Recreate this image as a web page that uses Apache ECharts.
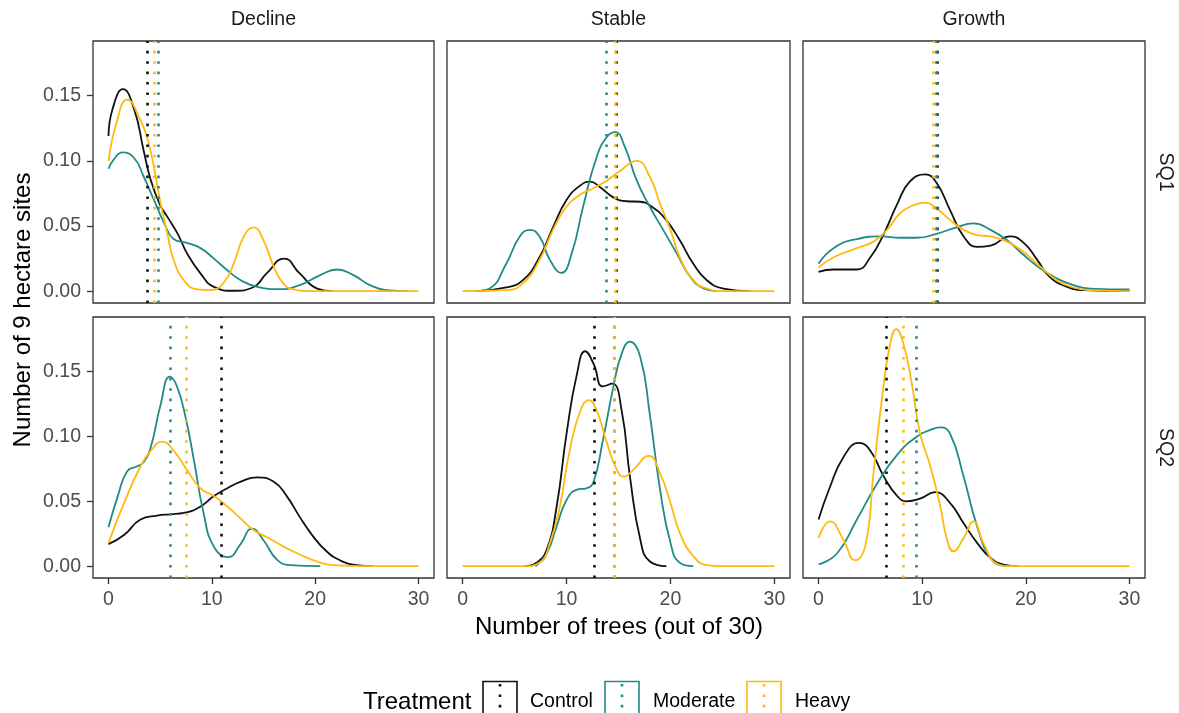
<!DOCTYPE html>
<html><head><meta charset="utf-8">
<script src="https://cdn.jsdelivr.net/npm/echarts@6/dist/echarts.min.js"></script>
<style>html,body{margin:0;padding:0;background:#fff}#chart{width:1179px;height:713px}</style>
</head><body><div id="chart"></div>
<script>
// ---------- labels ----------
const columnLabels = ['Decline', 'Stable', 'Growth'];
const rowLabels = ['SQ1', 'SQ2'];
const treatments = ['Control', 'Moderate', 'Heavy'];
const xTicks = [0, 10, 20, 30];
const yTicks = [0, 0.05, 0.10, 0.15];
const xTitle = 'Number of trees (out of 30)';
const yTitle = 'Number of 9 hectare sites';
const legendTitle = 'Treatment';

// ---------- density curves [x, density] ----------
const declineSQ1Control = [[0,0.119],[0.4,0.140],[1.4,0.155],[2.5,0.139],[3.4,0.108],[4.1,0.085],[5.0,0.066],[5.7,0.057],[6.7,0.044],[7.6,0.029],[8.9,0.0136],[10.2,0.0033],[12.1,0.0003],[14.0,0.003],[15.3,0.0136],[17.0,0.025],[18.5,0.0136],[20.2,0.002],[21.7,0]];
const declineSQ1Moderate = [[0,0.094],[0.5,0.101],[1.35,0.1065],[2.5,0.102],[3.4,0.088],[4.4,0.070],[5.4,0.052],[6.3,0.040],[7.6,0.037],[8.9,0.033],[10.2,0.025],[11.5,0.016],[12.8,0.0084],[14.4,0.0033],[16.6,0.0015],[18.5,0.0046],[20.5,0.0123],[22.1,0.0166],[23.7,0.0123],[25.3,0.0046],[26.9,0.0008],[29,0]];
const declineSQ1Heavy = [[0,0.0998],[0.8,0.130],[1.8,0.147],[3.1,0.131],[3.8,0.116],[4.4,0.095],[5.05,0.067],[5.7,0.044],[6.3,0.024],[7.3,0.0084],[8.6,0.0013],[9.9,0.0008],[11.2,0.007],[12.1,0.021],[13.1,0.042],[14.05,0.049],[15.0,0.039],[16.0,0.0187],[16.9,0.006],[17.9,0.0013],[19.2,0],[25,0],[30,0]];

const stableSQ1Control = [[1.35,0],[4.2,0.0028],[5.8,0.0084],[7.4,0.026],[8.7,0.049],[10.0,0.070],[11.3,0.081],[12.25,0.084],[13.2,0.080],[14.5,0.072],[15.8,0.069],[17.1,0.0686],[18.35,0.064],[19.6,0.0545],[20.9,0.039],[22.2,0.021],[23.5,0.0084],[25.1,0.002],[27.7,0]];
const stableSQ1Moderate = [[1.35,0],[2.6,0.002],[4.2,0.021],[5.5,0.042],[6.5,0.047],[7.4,0.042],[8.4,0.024],[9.5,0.014],[10.5,0.029],[11.6,0.065],[12.9,0.103],[13.9,0.1185],[14.7,0.122],[15.6,0.111],[16.75,0.085],[18.0,0.065],[19.3,0.047],[20.6,0.029],[21.9,0.011],[23.2,0.002],[24.4,0]];
const stableSQ1Heavy = [[0,0],[4.2,0.0008],[5.8,0.006],[7.4,0.024],[8.7,0.047],[10.0,0.065],[11.3,0.074],[12.6,0.079],[13.9,0.085],[15.1,0.092],[16.75,0.100],[18.0,0.088],[19.0,0.067],[20.0,0.047],[20.9,0.026],[22.2,0.0084],[23.5,0.002],[25.1,0],[30,0]];

const growthSQ1Control = [[0,0.0148],[1.45,0.0166],[3.7,0.0166],[5.0,0.026],[6.3,0.044],[7.6,0.067],[8.8,0.084],[10.3,0.0896],[11.4,0.083],[12.7,0.062],[14.0,0.042],[15.3,0.034],[16.6,0.035],[18.5,0.042],[19.8,0.037],[21.1,0.024],[22.3,0.011],[24.0,0.0033],[25.6,0.0008],[30,0]];
const growthSQ1Moderate = [[0,0.021],[1.45,0.033],[3.7,0.040],[6.0,0.042],[7.9,0.041],[9.5,0.041],[11.4,0.044],[13.3,0.049],[14.95,0.052],[16.6,0.047],[18.2,0.039],[19.8,0.0277],[21.4,0.0174],[23.0,0.0097],[24.6,0.0046],[26.2,0.002],[30,0.0013]];
const growthSQ1Heavy = [[0,0.018],[1.45,0.026],[3.7,0.033],[5.3,0.038],[6.6,0.047],[7.9,0.060],[9.2,0.066],[10.3,0.068],[11.4,0.0635],[12.7,0.0545],[14.0,0.047],[15.3,0.043],[16.6,0.042],[18.2,0.038],[19.8,0.030],[21.4,0.0187],[23.0,0.0084],[24.6,0.0028],[26.2,0.0008],[30,0]];

const declineSQ2Control = [[0,0.017],[1.5,0.024],[3.1,0.036],[4.7,0.039],[6.0,0.040],[7.3,0.041],[8.9,0.046],[10.2,0.054],[11.5,0.060],[12.75,0.065],[14.4,0.0685],[16.0,0.065],[17.25,0.054],[18.5,0.038],[19.8,0.023],[21.1,0.0115],[22.4,0.0046],[24.0,0.0008],[25.6,0]];
const declineSQ2Moderate = [[0,0.030],[0.9,0.054],[1.8,0.073],[2.8,0.077],[3.4,0.080],[4.1,0.092],[5.0,0.123],[5.95,0.146],[6.65,0.138],[7.45,0.115],[8.26,0.082],[9.2,0.041],[10.2,0.015],[11.6,0.007],[12.75,0.0166],[13.9,0.029],[15.0,0.020],[16.3,0.005],[17.6,0.0008],[20.5,0]];
const declineSQ2Heavy = [[0,0.018],[1.5,0.0486],[3.1,0.077],[4.1,0.089],[5.2,0.096],[6.3,0.089],[7.6,0.074],[8.9,0.060],[10.2,0.054],[11.5,0.046],[12.75,0.037],[14.0,0.028],[15.3,0.0225],[16.9,0.0153],[18.5,0.009],[20.1,0.0038],[21.7,0.0008],[25,0],[30,0]];

const stableSQ2Control = [[6.0,0],[7.1,0.0026],[8.1,0.0128],[9.05,0.046],[10.0,0.102],[11.0,0.148],[11.8,0.1656],[12.6,0.156],[13.5,0.1385],[14.4,0.1406],[15.3,0.120],[16.1,0.069],[17.1,0.0204],[18.0,0.0038],[19.6,0]];
const stableSQ2Moderate = [[7.0,0],[8.1,0.010],[9.05,0.0307],[10.0,0.051],[11.0,0.059],[11.9,0.060],[12.6,0.065],[13.5,0.097],[14.5,0.138],[15.3,0.1636],[16.1,0.173],[17.1,0.161],[18.0,0.1176],[19.0,0.059],[20.0,0.018],[20.9,0.0026],[22.2,0]];
const stableSQ2Heavy = [[0,0],[5.8,0],[7.4,0.0026],[8.4,0.018],[9.36,0.046],[10.3,0.089],[11.3,0.119],[12.16,0.128],[12.9,0.120],[13.9,0.0946],[14.8,0.075],[15.5,0.069],[16.4,0.074],[17.9,0.085],[19.0,0.0716],[20.0,0.0486],[20.9,0.0256],[22.2,0.0077],[23.5,0.0008],[25,0],[30,0]];

const growthSQ2Control = [[0,0.036],[1.1,0.061],[2.4,0.084],[3.9,0.095],[5.0,0.089],[6.3,0.069],[7.6,0.054],[8.5,0.050],[9.8,0.052],[11.25,0.057],[12.7,0.0486],[14.0,0.033],[15.3,0.018],[16.6,0.0064],[17.85,0.0013],[19.3,0]];
const growthSQ2Moderate = [[0,0.0013],[1.8,0.010],[3.7,0.036],[5.6,0.063],[7.6,0.086],[9.5,0.100],[10.8,0.105],[11.75,0.107],[12.7,0.102],[14.0,0.069],[15.3,0.0307],[16.6,0.0064],[17.85,0.0005],[19.3,0]];
const growthSQ2Heavy = [[0,0.0217],[1.1,0.0345],[2.4,0.0204],[3.5,0.0046],[4.5,0.0153],[5.3,0.0716],[6.1,0.128],[6.9,0.171],[7.5,0.1827],[8.2,0.171],[9.0,0.1406],[9.8,0.102],[10.8,0.0767],[11.75,0.046],[12.4,0.0204],[13.0,0.0115],[14.0,0.0217],[14.95,0.0345],[15.9,0.018],[17.2,0.002],[18.5,0],[25,0],[30,0]];

// ---------- treatment means (Control, Moderate, Heavy) ----------
const meansDeclineSQ1 = [3.76, 4.83, 4.40];
const meansStableSQ1 = [14.8, 13.86, 14.7];
const meansGrowthSQ1 = [11.5, 11.4, 11.1];
const meansDeclineSQ2 = [10.9, 5.94, 7.48];
const meansStableSQ2 = [12.64, 14.62, 14.55];
const meansGrowthSQ2 = [6.5, 9.38, 8.14];

// ---------- build ----------
const panels = [
  {r:0, c:0, curves:[declineSQ1Control, declineSQ1Moderate, declineSQ1Heavy], means: meansDeclineSQ1},
  {r:0, c:1, curves:[stableSQ1Control, stableSQ1Moderate, stableSQ1Heavy], means: meansStableSQ1},
  {r:0, c:2, curves:[growthSQ1Control, growthSQ1Moderate, growthSQ1Heavy], means: meansGrowthSQ1},
  {r:1, c:0, curves:[declineSQ2Control, declineSQ2Moderate, declineSQ2Heavy], means: meansDeclineSQ2},
  {r:1, c:1, curves:[stableSQ2Control, stableSQ2Moderate, stableSQ2Heavy], means: meansStableSQ2},
  {r:1, c:2, curves:[growthSQ2Control, growthSQ2Moderate, growthSQ2Heavy], means: meansGrowthSQ2}
];
const colors = ['#111111', '#208b87', '#ffb90f'];
const colLeft = [93, 447, 803], colWidth = [341, 343, 342];
const rowTop = [41, 317], rowHeight = [262, 261];
const FONT = '"Liberation Sans", Arial, sans-serif';

const grid = [], xAxis = [], yAxis = [], series = [];
panels.forEach((p, g) => {
  grid.push({left: colLeft[p.c], top: rowTop[p.r], width: colWidth[p.c], height: rowHeight[p.r],
    show: true, borderColor: '#333333', borderWidth: 1.3, backgroundColor: 'transparent',
    containLabel: false, outerBoundsMode: 'none'});
  const bottom = p.r === 1, left = p.c === 0;
  xAxis.push({type: 'value', gridIndex: g, min: -1.5, max: 31.5, position: 'bottom',
    axisLine: {show: false, onZero: false}, splitLine: {show: false},
    axisTick: {show: bottom, customValues: xTicks, length: 6, lineStyle: {color: '#333333', width: 1.3}},
    axisLabel: {show: bottom, customValues: xTicks, margin: 12, color: '#4d4d4d', fontSize: 19.5, fontFamily: FONT}});
  yAxis.push({type: 'value', gridIndex: g, min: -0.0091, max: 0.192, position: 'left',
    axisLine: {show: false, onZero: false}, splitLine: {show: false},
    axisTick: {show: left, customValues: yTicks, length: 6, lineStyle: {color: '#333333', width: 1.3}},
    axisLabel: {show: left, customValues: yTicks, margin: 12, color: '#4d4d4d', fontSize: 19.5, fontFamily: FONT,
      formatter: v => v.toFixed(2)}});
  p.curves.forEach((curve, k) => {
    series.push({type: 'line', name: treatments[k], xAxisIndex: g, yAxisIndex: g, data: curve,
      smooth: 0.5, showSymbol: false, symbol: 'none', clip: true,
      lineStyle: {color: colors[k], width: 1.8}, itemStyle: {color: colors[k]}, z: 2 + k,
      emphasis: {disabled: true},
      markLine: {silent: true, symbol: ['none', 'none'], label: {show: false}, animation: false,
        emphasis: {disabled: true},
        lineStyle: {color: colors[k], type: [2.6, 7.8], width: 2.6, cap: 'butt'},
        data: [{xAxis: p.means[k]}]}});
  });
});

const graphic = [];
columnLabels.forEach((t, c) => graphic.push({type: 'text', x: colLeft[c] + colWidth[c] / 2, y: 20,
  style: {text: t, fill: '#1a1a1a', fontSize: 19.5, fontFamily: FONT, align: 'center', verticalAlign: 'middle'}}));
rowLabels.forEach((t, r) => graphic.push({type: 'text', x: 1165, y: rowTop[r] + rowHeight[r] / 2, rotation: -Math.PI / 2,
  style: {text: t, fill: '#1a1a1a', fontSize: 19.5, fontFamily: FONT, align: 'center', verticalAlign: 'middle'}}));
graphic.push({type: 'text', x: 619, y: 627,
  style: {text: xTitle, fill: '#000', fontSize: 24, fontFamily: FONT, align: 'center', verticalAlign: 'middle'}});
graphic.push({type: 'text', x: 23, y: 310, rotation: Math.PI / 2,
  style: {text: yTitle, fill: '#000', fontSize: 24, fontFamily: FONT, align: 'center', verticalAlign: 'middle'}});
// legend
graphic.push({type: 'text', x: 363, y: 702,
  style: {text: legendTitle, fill: '#000', fontSize: 24, fontFamily: FONT, align: 'left', verticalAlign: 'middle'}});
const keyX = [483, 605, 747], textX = [530, 653, 795];
treatments.forEach((t, k) => {
  graphic.push({type: 'rect', shape: {x: keyX[k], y: 681.5, width: 34, height: 40},
    style: {fill: 'none', stroke: colors[k], lineWidth: 1.6}});
  graphic.push({type: 'line', shape: {x1: keyX[k] + 17, y1: 684, x2: keyX[k] + 17, y2: 722},
    style: {stroke: colors[k], lineWidth: 2.6, lineDash: [2.6, 7.8]}});
  graphic.push({type: 'text', x: textX[k], y: 702,
    style: {text: t, fill: '#000', fontSize: 19.5, fontFamily: FONT, align: 'left', verticalAlign: 'middle'}});
});

const chart = echarts.init(document.getElementById('chart'), null, {renderer: 'canvas'});
chart.setOption({animation: false, backgroundColor: '#ffffff', grid, xAxis, yAxis, series, graphic});
</script></body></html>
